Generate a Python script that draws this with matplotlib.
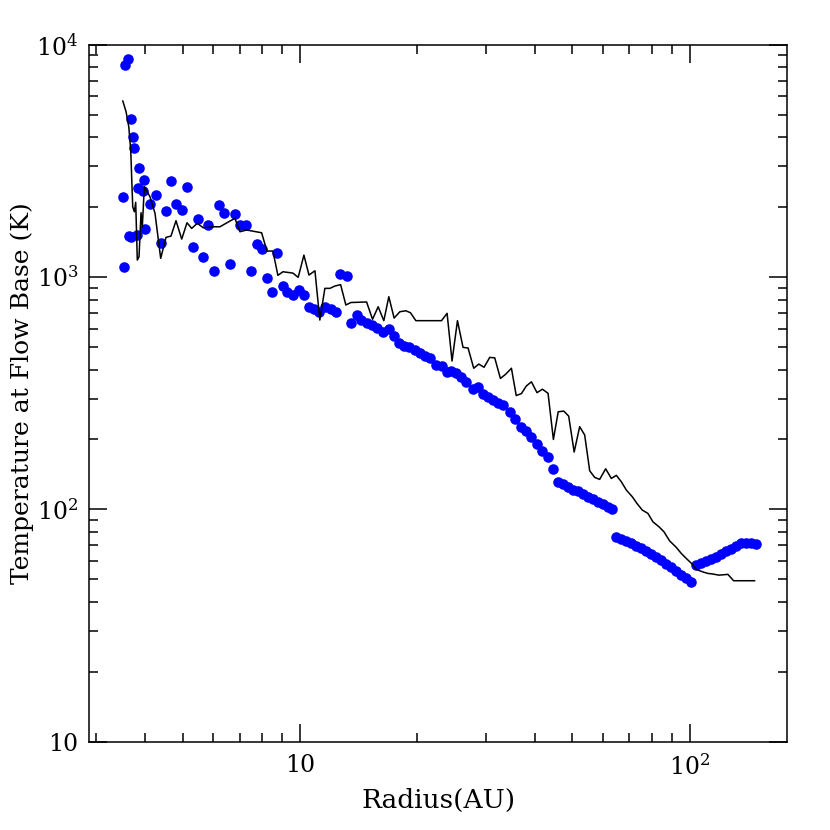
import matplotlib
matplotlib.use("Agg")
import matplotlib.pyplot as plt
from matplotlib.ticker import LogLocator, FixedLocator, FixedFormatter, NullFormatter

plt.rcParams['font.family'] = ['DejaVu Serif']
plt.rcParams['mathtext.fontset'] = 'dejavuserif'

# blue points: radius (AU) and base temperature (K)
r_pts = [3.532, 3.512, 3.559, 3.616, 3.638, 3.687, 3.693, 3.724, 3.753, 3.813,
         3.858, 3.835, 3.951, 3.981, 4.005, 4.124, 4.266, 4.393, 4.533, 4.668,
         4.817, 4.991, 5.132, 5.307, 5.466, 5.650, 5.808, 6.007, 6.198, 6.395,
         6.614, 6.801, 7.028, 7.257, 7.488, 7.745, 7.991, 8.230, 8.477, 8.746,
         9.029, 9.278, 9.623, 9.924, 10.24, 10.53, 10.86, 11.21, 11.61, 11.99,
         12.37, 12.70, 13.17, 13.55, 13.98, 14.39, 14.83, 15.27, 15.73, 16.36,
         16.93, 17.42, 17.94, 18.48, 19.06, 19.72, 20.31, 20.92, 21.54, 22.33,
         23.09, 23.78, 24.49, 25.22, 25.98, 26.76, 27.82, 28.66, 29.51, 30.40,
         31.31, 32.25, 33.21, 34.55, 35.59, 36.87, 38.13, 39.28, 40.59, 41.91,
         43.33, 44.62, 45.96, 47.33, 48.75, 50.21, 51.72, 53.27, 54.86, 56.51,
         58.20, 59.94, 61.73, 63.21, 64.87, 66.81, 68.81, 70.87, 72.99, 75.18,
         77.44, 79.76, 82.14, 84.60, 87.14, 89.76, 92.45, 95.22, 98.06, 100.6,
         103.6, 106.7, 110.4, 113.7, 117.1, 120.6, 124.2, 127.9, 131.8, 135.7,
         139.8, 144.0, 147.7]
t_pts = [1101, 2210, 8177, 8653, 1506, 1491, 4773, 4018, 3592, 1516,
         2945, 2416, 2353, 2616, 1609, 2062, 2261, 1405, 1929, 2597,
         2062, 1937, 2447, 1346, 1777, 1223, 1680, 1058, 2048, 1892,
         1134, 1873, 1669, 1669, 1061, 1383, 1316, 990, 859, 1272,
         915, 859, 833, 883, 834, 743, 728, 705, 745, 728,
         709, 1030, 1008, 632, 684, 653, 636, 622, 601, 581,
         597, 557, 518, 505, 501, 485, 472, 457, 447, 418,
         414, 391, 395, 385, 370, 354, 331, 335, 314, 305,
         295, 288, 280, 263, 244, 227, 218, 204, 191, 179,
         168, 149, 131.5, 128.5, 124.3, 121.1, 120.3, 116.4, 113.3, 110.4,
         107.8, 105.4, 102.6, 100.0, 76.2, 74.7, 73.2, 71.4, 69.5, 67.9,
         65.9, 64.2, 62.5, 60.5, 58.1, 56.3, 54.4, 52.1, 50.5, 48.8,
         57.4, 58.5, 59.9, 61.1, 62.5, 64.2, 65.9, 67.7, 69.5, 71.4,
         71.8, 71.4, 71.0]

# black curve
r_line = [3.512, 3.580, 3.638, 3.680, 3.724, 3.759, 3.790, 3.826, 3.865, 3.911,
          3.941, 3.988, 4.124, 4.248, 4.393, 4.533, 4.668, 4.809, 4.974, 5.132,
          5.276, 5.453, 5.650, 5.993, 6.235, 6.614, 6.812, 7.017, 7.299, 7.976,
          8.230, 8.526, 8.780, 9.045, 9.595, 9.90, 10.24, 10.55, 10.93, 11.25,
          11.59, 11.94, 12.30, 12.72, 13.12, 13.52, 14.83, 15.36, 15.88, 16.42,
          16.91, 17.45, 18.05, 18.70, 19.22, 19.84, 23.09, 23.86, 24.57, 25.37,
          26.22, 27.01, 27.93, 28.77, 29.69, 30.70, 31.62, 32.70, 33.75, 34.90,
          35.90, 37.02, 38.13, 39.28, 40.59, 41.91, 43.33, 44.72, 46.01, 47.53,
          48.95, 50.56, 52.23, 53.80, 55.42, 57.07, 58.78, 60.90, 62.98, 64.87,
          66.81, 68.81, 71.29, 73.26, 75.62, 78.17, 80.52, 83.43, 85.94, 88.87,
          92.45, 95.22, 98.06, 101.6, 104.0, 107.8, 111.4, 114.7, 118.9, 125.4,
          129.7, 146.8]
t_line = [5723, 5148, 4436, 3522, 2007, 1910, 2097, 1184, 1223, 1892,
          1646, 2447, 2216, 1881, 1204, 1482, 1501, 1748, 1457, 1713,
          1620, 1703, 1630, 1646, 1646, 1742, 1789, 1567, 1594, 1551,
          1294, 1294, 1017, 1054, 1040, 997, 1243, 1020, 1064, 653,
          894, 894, 915, 927, 758, 777, 781, 658, 745, 649,
          823, 666, 709, 716, 702, 649, 649, 698, 435, 649,
          498, 495, 405, 422, 409, 451, 449, 366, 382, 405,
          309, 315, 340, 354, 318, 329, 316, 200, 263, 265,
          252, 176.5, 227, 209, 146.6, 137.3, 134.6, 149.5, 135.9, 140.1,
          131.5, 121.1, 113.3, 106.1, 99.3, 96.1, 88.4, 84.2, 80.1, 73.2,
          68.6, 64.6, 61.5, 58.1, 55.2, 53.9, 53.0, 52.7, 52.1, 52.5,
          49.3, 49.3]

x_major = [10, 100]
x_labels = ['10', r'$10^{2}$']
y_major = [10, 100, 1000, 10000]
y_labels = ['10', r'$10^{2}$', r'$10^{3}$', r'$10^{4}$']

fig = plt.figure(figsize=(8.3, 8.3), dpi=100)
ax = fig.add_axes([0.1078, 0.1064, 0.8404, 0.8397])

ax.plot(r_pts, t_pts, 'o', color='#0000ff', markersize=7.6, markeredgewidth=0, zorder=2)
ax.plot(r_line, t_line, color='black', linewidth=1.1, zorder=3)

ax.set_xscale('log')
ax.set_yscale('log')
ax.set_xlim(10**0.46, 10**2.25)
ax.set_ylim(10, 1e4)

ax.xaxis.set_major_locator(FixedLocator(x_major))
ax.xaxis.set_major_formatter(FixedFormatter(x_labels))
ax.yaxis.set_major_locator(FixedLocator(y_major))
ax.yaxis.set_major_formatter(FixedFormatter(y_labels))
ax.xaxis.set_minor_locator(LogLocator(base=10, subs=range(2, 10), numticks=20))
ax.yaxis.set_minor_locator(LogLocator(base=10, subs=range(2, 10), numticks=20))
ax.xaxis.set_minor_formatter(NullFormatter())
ax.yaxis.set_minor_formatter(NullFormatter())

ax.tick_params(which='both', direction='in', top=True, right=True, width=1.1, labelsize=17)
ax.tick_params(which='major', length=12.7)
ax.tick_params(which='minor', length=6.3)
ax.tick_params(axis='x', pad=9)
ax.tick_params(axis='y', pad=8)
for s in ax.spines.values():
    s.set_linewidth(1.1)

ax.set_xlabel('Radius(AU)', fontsize=19, labelpad=6)
ax.set_ylabel('Temperature at Flow Base (K)', fontsize=18, labelpad=2)

fig.savefig('out.png', dpi=100)
